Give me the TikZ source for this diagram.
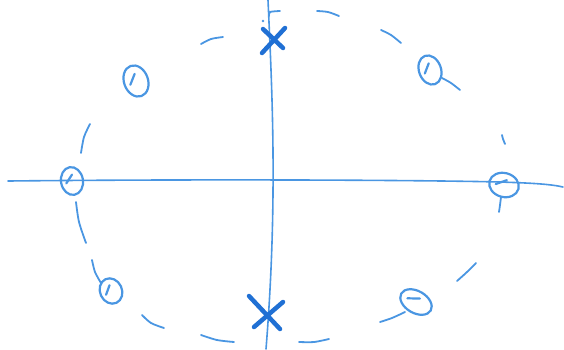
\documentclass[tikz,border=0pt]{standalone}
\definecolor{penblue}{RGB}{74,150,226}
\definecolor{darkpen}{RGB}{32,112,212}
\tikzset{
  axisline/.style={draw=penblue, line width=1.6pt, line cap=round},
  dashline/.style={draw=penblue, line width=1.8pt, line cap=round},
  zeroring/.style={draw=penblue, line width=2.2pt},
  polemark/.style={draw=darkpen, line width=4.5pt, line cap=round},
}
\newcommand{\zeromark}[5]{%
  \draw[zeroring, rotate around={#5:(#1,#2)}] (#1,#2) ellipse[x radius=#3, y radius=#4];
  \draw[zeroring, line cap=round, rotate around={#5:(#1,#2)}] (#1-#3*0.55,#2+#4*0.1) -- (#1+#3*0.1,#2-#4*0.45);
}
\begin{document}
\begin{tikzpicture}[x=1pt,y=-1pt]
\useasboundingbox (0,0) rectangle (564,349);
% axes
\coordinate (hl) at (8,181);
\coordinate (hr) at (563,187);
\coordinate (vt) at (268,0);
\coordinate (vb) at (266,349);
\draw[axisline] (hl) .. controls (200,179) and (420,180) .. (500,182) .. controls (530,183) and (550,184) .. (hr);
\draw[axisline] (vt) .. controls (272,90) and (278,200) .. (vb);
% dashed circle pieces
\draw[dashline] plot[smooth] coordinates {(201,44) (211,39) (223,37)};
\draw[dashline] plot[smooth] coordinates {(269,16) (270,12) (280,11)};
\fill[penblue] (263,21) circle[radius=1.3];
\draw[dashline] plot[smooth] coordinates {(317,11) (328,12) (339,16)};
\draw[dashline] plot[smooth] coordinates {(381,30) (391,35) (401,43)};
\draw[dashline] plot[smooth] coordinates {(442,78) (451,83) (460,90)};
\draw[dashline] plot[smooth] coordinates {(502,135) (503,139) (505,144)};
\draw[dashline] plot[smooth] coordinates {(501,197) (500,205) (499,212)};
\draw[dashline] plot[smooth] coordinates {(476,263) (467,272) (457,281)};
\draw[dashline] plot[smooth] coordinates {(380,322) (392,318) (405,312)};
\draw[dashline] plot[smooth] coordinates {(299,342) (314,342) (329,339)};
\draw[dashline] plot[smooth] coordinates {(201,335) (217,340) (234,342)};
\draw[dashline] plot[smooth] coordinates {(142,315) (151,323) (164,328)};
\draw[dashline] plot[smooth] coordinates {(92,260) (95,272) (101,283)};
\draw[dashline] plot[smooth] coordinates {(76,202) (79,222) (86,243)};
\draw[dashline] plot[smooth] coordinates {(90,124) (84,137) (81,153)};
% zeros
\zeromark{136}{81}{12}{16}{20}
\zeromark{430}{70}{11}{15}{20}
\zeromark{72}{181}{11}{14}{10}
\zeromark{504}{185}{15}{12}{-15}
\zeromark{111}{291}{11}{13}{25}
\zeromark{416}{302}{17}{11}{-30}
% poles
\draw[polemark] (263,29) -- (283,48);
\draw[polemark] (262,53) -- (285,28);
\draw[polemark] (249,296) -- (280,329);
\draw[polemark] (254,327) -- (283,302);
\end{tikzpicture}
\end{document}
